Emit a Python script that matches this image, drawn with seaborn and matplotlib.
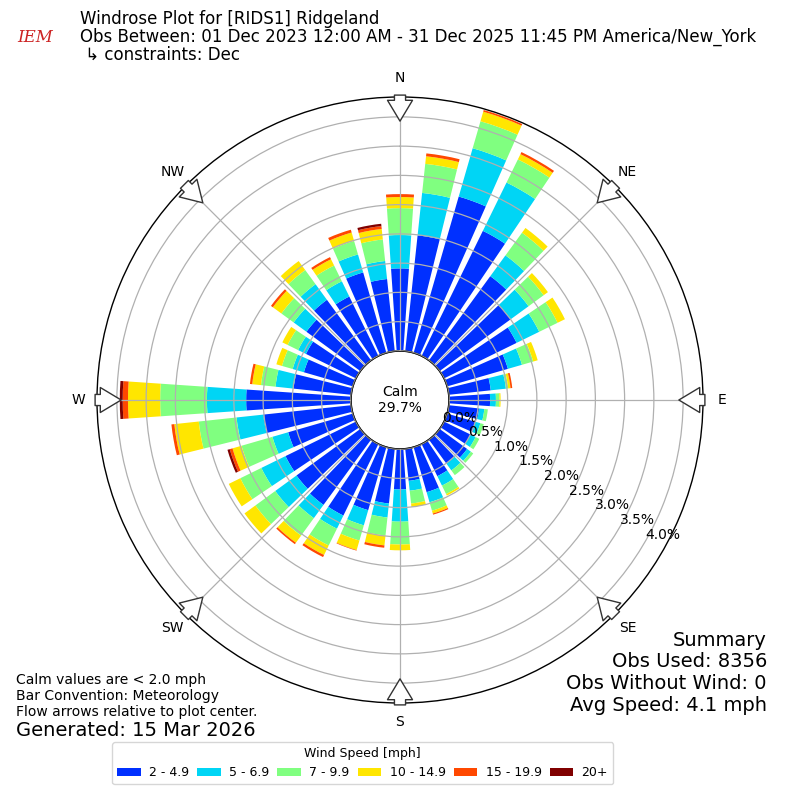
import numpy as np
import matplotlib
matplotlib.use("Agg")
import matplotlib.pyplot as plt
import seaborn as sns
from matplotlib.patches import Circle

# wind directions (deg, meteorological) and frequency (%) per speed bin
directions = list(range(0, 360, 10))
bin_labels = ["2 - 4.9", "5 - 6.9", "7 - 9.9", "10 - 14.9", "15 - 19.9", "20+"]
bin_colors = ["#0030ff", "#00d5f5", "#80ff80", "#ffe600", "#ff4800", "#800000"]

spd_2_5 = [1.41, 1.99, 2.78, 2.38, 1.78, 1.50, 1.38, 1.08, 0.72, 0.70, 0.52, 0.50,
           0.50, 0.58, 0.50, 0.61, 0.80, 0.55, 0.69, 0.94, 1.12, 1.36, 1.38, 1.35,
           1.34, 1.15, 1.51, 1.79, 0.99, 0.87, 0.95, 1.14, 1.28, 1.13, 1.43, 1.24]
spd_5_7 = [0.57, 0.73, 0.86, 0.92, 0.44, 0.38, 0.43, 0.25, 0.26, 0.10, 0.09, 0.09,
           0.10, 0.08, 0.15, 0.18, 0.18, 0.17, 0.55, 0.24, 0.27, 0.25, 0.28, 0.45,
           0.46, 0.28, 0.46, 0.67, 0.31, 0.20, 0.15, 0.27, 0.33, 0.29, 0.32, 0.31]
spd_7_10 = [0.46, 0.50, 0.48, 0.44, 0.48, 0.32, 0.35, 0.20, 0.04, 0.06, 0.06, 0.06,
            0.07, 0.05, 0.10, 0.16, 0.15, 0.22, 0.39, 0.31, 0.27, 0.32, 0.37, 0.42,
            0.40, 0.55, 0.65, 0.80, 0.25, 0.19, 0.20, 0.26, 0.30, 0.30, 0.24, 0.37]
spd_10_15 = [0.19, 0.13, 0.17, 0.10, 0.10, 0.09, 0.14, 0.08, 0.04, 0.02, 0.00, 0.00,
             0.00, 0.00, 0.00, 0.03, 0.05, 0.06, 0.10, 0.17, 0.17, 0.18, 0.15, 0.23,
             0.22, 0.16, 0.42, 0.55, 0.15, 0.10, 0.10, 0.18, 0.19, 0.12, 0.15, 0.18]
spd_15_20 = [0.05, 0.05, 0.03, 0.04, 0.00, 0.00, 0.00, 0.00, 0.03, 0.00, 0.00, 0.00,
             0.00, 0.00, 0.00, 0.00, 0.02, 0.00, 0.00, 0.04, 0.01, 0.04, 0.03, 0.00,
             0.00, 0.05, 0.05, 0.09, 0.04, 0.00, 0.00, 0.04, 0.00, 0.04, 0.05, 0.05]
spd_20p = [0.00, 0.00, 0.00, 0.00, 0.00, 0.00, 0.00, 0.00, 0.00, 0.00, 0.00, 0.00,
           0.00, 0.00, 0.00, 0.00, 0.00, 0.00, 0.00, 0.00, 0.00, 0.00, 0.00, 0.00,
           0.00, 0.04, 0.00, 0.05, 0.00, 0.00, 0.00, 0.00, 0.00, 0.00, 0.00, 0.04]

calm_pct = 29.7
compass = ["N", "NE", "E", "SE", "S", "SW", "W", "NW"]
rticks = [0.0, 0.5, 1.0, 1.5, 2.0, 2.5, 3.0, 3.5, 4.0]

sns.set_theme(style="white", rc={"text.color": "black", "xtick.color": "black",
                                 "ytick.color": "black", "axes.labelcolor": "black"})
plt.rcParams["font.family"] = ["DejaVu Sans"]
palette = sns.color_palette(bin_colors)

fig = plt.figure(figsize=(8, 8), dpi=100)
ax = fig.add_axes([0.12125, 0.12125, 0.7575, 0.7575], projection="polar")
ax.set_theta_zero_location("N")
ax.set_theta_direction(-1)
ax.set_rorigin(-0.84)
ax.set_ylim(0, 4.34)
ax.set_axisbelow(False)

theta = np.deg2rad(directions)
bins = [spd_2_5, spd_5_7, spd_7_10, spd_10_15, spd_15_20, spd_20p]
bottom = np.zeros(len(directions))
for vals, col, lab in zip(bins, palette, bin_labels):
    vals = np.array(vals)
    ax.bar(theta, vals, width=np.deg2rad(7.8), bottom=bottom, color=col,
           label=lab, linewidth=0, zorder=1)
    bottom += vals

ax.set_thetagrids(range(0, 360, 45), compass, fontsize=10)
ax.set_rgrids(rticks, [f"{v:.1f}%" for v in rticks], angle=120, fontsize=10)
ax.tick_params(axis="x", pad=0.5)
ax.grid(True, color="#b0b0b0", lw=0.9)
ax.spines["polar"].set_color("black")
ax.spines["polar"].set_linewidth(1)

# calm circle in the middle
ax.add_patch(Circle((0.5, 0.5), 49 / 606, transform=ax.transAxes, fc="white",
                    ec="black", lw=1, zorder=2.2, clip_on=False))
ax.text(0.5, 0.5, f"Calm\n{calm_pct}%", transform=ax.transAxes, ha="center",
        va="center", fontsize=10, zorder=6)

# flow arrows at the compass points
for d in range(0, 360, 45):
    t = np.deg2rad(d)
    ax.annotate("", xy=(t, 3.88), xytext=(t, 4.42), annotation_clip=False,
                arrowprops=dict(arrowstyle="simple,head_length=0.75,head_width=0.9,tail_width=0.4",
                                fc="white", ec="#333333", lw=1, mutation_scale=20),
                zorder=7)

fig.text(35 / 800, 1 - 38 / 800, "IEM", color="#cc2222", fontsize=12,
         family="DejaVu Serif", style="italic", ha="center", va="center")
fig.text(0.1, 1 - 19 / 800, "Windrose Plot for [RIDS1] Ridgeland", fontsize=12, va="center")
fig.text(0.1, 1 - 37 / 800,
         "Obs Between: 01 Dec 2023 12:00 AM - 31 Dec 2025 11:45 PM America/New_York",
         fontsize=12, va="center")
fig.text(0.1, 1 - 55 / 800, " \u21b3 constraints: Dec", fontsize=12, va="center")

fig.text(16 / 800, 1 - 680 / 800, "Calm values are < 2.0 mph", fontsize=10, va="center")
fig.text(16 / 800, 1 - 696 / 800, "Bar Convention: Meteorology", fontsize=10, va="center")
fig.text(16 / 800, 1 - 712 / 800, "Flow arrows relative to plot center.", fontsize=10, va="center")
fig.text(16 / 800, 1 - 730 / 800, "Generated: 15 Mar 2026", fontsize=14, va="center")

summary = ["Summary", "Obs Used: 8356", "Obs Without Wind: 0", "Avg Speed: 4.1 mph"]
for i, s in enumerate(summary):
    fig.text(767 / 800, 1 - (640 + 21.7 * i) / 800, s, fontsize=14, ha="right", va="center")

handles, labels = ax.get_legend_handles_labels()
fig.legend(handles, labels, loc="upper left", bbox_to_anchor=(112 / 800, 1 - 742 / 800),
           borderaxespad=0, ncol=6, fontsize=9, title="Wind Speed [mph]", title_fontsize=9,
           frameon=True, handlelength=1.9, columnspacing=0.65, handletextpad=0.65)

fig.savefig("out.png", dpi=100)
